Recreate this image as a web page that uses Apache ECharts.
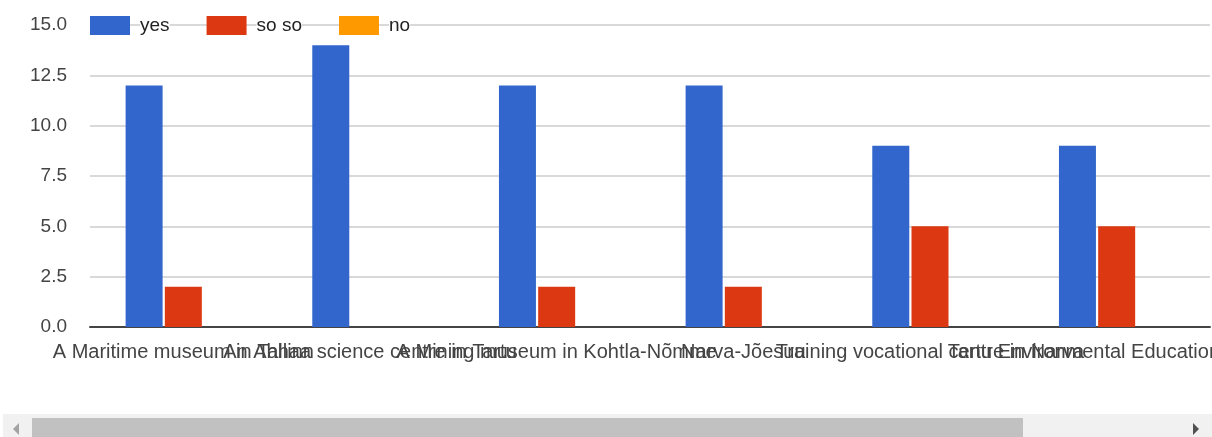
<!DOCTYPE html>
<html>
<head>
<meta charset="utf-8">
<script src="https://cdn.jsdelivr.net/npm/echarts@6/dist/echarts.min.js"></script>
<style>
html,body{margin:0;padding:0;background:#fff;}
#chart{width:1212px;height:437px;}
</style>
</head>
<body>
<div id="chart"></div>
<script>
var categories = [
  "A Maritime museum in Tallinn",
  "An Ahhaa science centre in Tartu",
  "A Mining museum in Kohtla-Nõmme",
  "Narva-Jõesuu",
  "Training vocational centre in Narva",
  "Tartu Environmental Education Centre"
];
var seriesNames = ["yes", "so so", "no"];
var yesValues = [12, 14, 12, 12, 9, 9];
var sosoValues = [2, 0, 2, 2, 5, 5];
var noValues = [0, 0, 0, 0, 0, 0];
var yTicks = [0, 2.5, 5, 7.5, 10, 12.5, 15];

var colors = ["#3366cc", "#dc3912", "#ff9900"];
var font = "'Liberation Sans', Arial, sans-serif";

var chart = echarts.init(document.getElementById('chart'), null, {renderer: 'canvas'});
var values = [yesValues, sosoValues, noValues];

chart.setOption({
  animation: false,
  color: colors,
  grid: {left: 90, right: 2, top: 25, bottom: 110, containLabel: false, outerBoundsMode: 'none'},
  legend: {
    left: 90,
    top: 16,
    padding: 0,
    itemWidth: 40,
    itemHeight: 19,
    itemGap: 37,
    icon: 'rect',
    data: seriesNames,
    formatter: function (name) { return '{g|}{t|' + name + '}'; },
    textStyle: {
      fontFamily: font,
      fontSize: 19,
      color: '#222',
      rich: {
        g: {width: 5},
        t: {backgroundColor: '#fff', fontFamily: font, fontSize: 19, color: '#222'}
      }
    }
  },
  xAxis: {
    type: 'category',
    data: categories,
    axisLine: {show: true, lineStyle: {color: '#444', width: 2}},
    axisTick: {show: false},
    axisLabel: {
      interval: 0,
      margin: 15,
      fontFamily: font,
      fontSize: 20,
      color: '#444',
      hideOverlap: false
    },
    splitLine: {show: false}
  },
  yAxis: {
    type: 'value',
    min: yTicks[0],
    max: yTicks[yTicks.length - 1],
    interval: yTicks[1] - yTicks[0],
    axisLine: {show: false},
    axisTick: {show: false},
    axisLabel: {
      margin: 23,
      fontFamily: font,
      fontSize: 19,
      color: '#444',
      formatter: function (v) { return v.toFixed(1); }
    },
    splitLine: {lineStyle: {color: '#cccccc', width: 1.5}}
  },
  series: seriesNames.map(function (n, i) {
    return {
      name: n,
      type: 'bar',
      data: values[i],
      barWidth: 37,
      barGap: '6%',
      itemStyle: {color: colors[i]}
    };
  }),
  graphic: [
    {type: 'rect', shape: {x: 3, y: 414, width: 1209, height: 23}, style: {fill: '#f1f1f1'}, silent: true},
    {type: 'rect', shape: {x: 32, y: 418, width: 991, height: 19}, style: {fill: '#c1c1c1'}, silent: true},
    {type: 'polygon', shape: {points: [[13, 429], [19, 423], [19, 435]]}, style: {fill: '#a3a3a3'}, silent: true},
    {type: 'polygon', shape: {points: [[1199, 429], [1193, 423], [1193, 435]]}, style: {fill: '#505050'}, silent: true}
  ]
});
</script>
</body>
</html>
